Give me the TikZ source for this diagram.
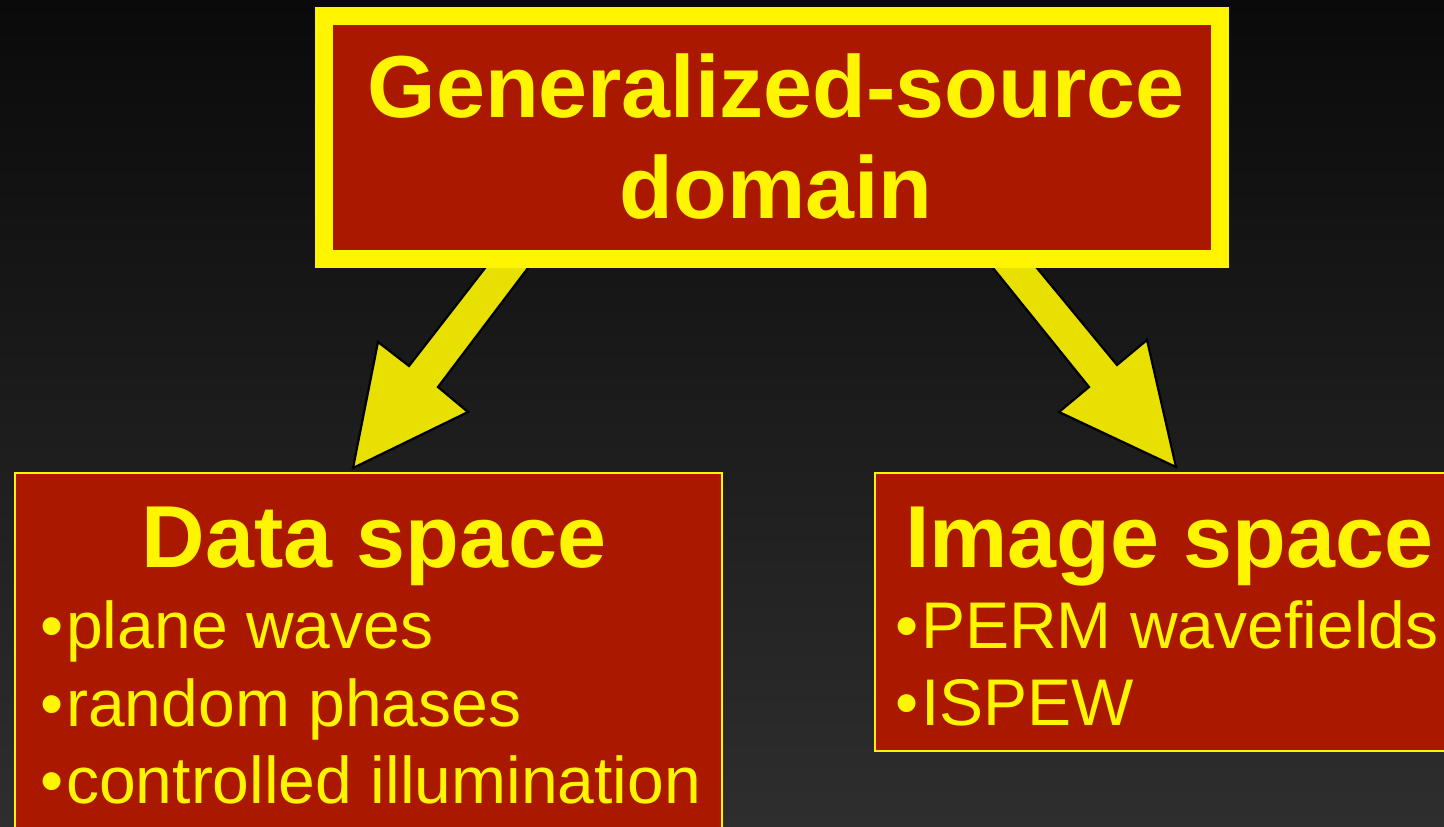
\documentclass[tikz,border=0pt]{standalone}
\usepackage{fontspec}
\setmainfont{Liberation Sans}
\definecolor{boxred}{RGB}{170,24,0}
\definecolor{ylw}{RGB}{255,245,0}
\definecolor{arrowylw}{RGB}{232,224,0}
\definecolor{bgtop}{RGB}{10,10,10}
\definecolor{bgbot}{RGB}{46,46,46}
\tikzset{
  bigbox/.style={draw=ylw,line width=18pt,fill=boxred,inner sep=0pt,outer sep=0pt},
  smallbox/.style={draw=ylw,line width=2pt,fill=boxred,inner sep=0pt,outer sep=0pt},
  blockarrow/.style={draw=black,line width=2.2pt,fill=arrowylw,line join=miter},
  headtext/.style={text=ylw,font=\fontsize{88}{100}\selectfont\bfseries,inner sep=0pt,anchor=base},
  itemtext/.style={text=ylw,font=\fontsize{66}{78}\selectfont,inner sep=0pt,anchor=base west},
}
\newcommand{\bul}{•\kern3pt}
\begin{document}
\begin{tikzpicture}[x=1pt,y=-1pt]
\useasboundingbox (0,0) rectangle (1444,827);
\shade[top color=bgtop,bottom color=bgbot] (0,0) rectangle (1444,827);
\clip (0,0) rectangle (1444,827);
% arrows
\draw[blockarrow] (489.7,262) -- (409,366) -- (378,342) -- (353,468) -- (468,412) -- (438,387) -- (532.5,262) -- cycle;
\draw[blockarrow] (988.2,262) -- (1089,387) -- (1059,412) -- (1176,467) -- (1147,340) -- (1117,365) -- (1032,262) -- cycle;
% boxes
\node[bigbox,minimum width=896pt,minimum height=243pt] (top) at (772,137.5) {};
\node[smallbox,minimum width=707pt,minimum height=427pt] (data) at (368.5,686.5) {};
\node[smallbox,minimum width=625pt,minimum height=278pt] (image) at (1187.5,612) {};
% texts
\node[headtext] (t1) at (776,117) {Generalized-source};
\node[headtext] (t2) at (776,218) {domain};
\node[headtext] (dh) at (374,567) {Data space};
\node[headtext,anchor=base west] (ih) at (905,567) {Image space};
\node[itemtext] (d1) at (40,648) {\bul plane waves};
\node[itemtext] (d2) at (40,726) {\bul random phases};
\node[itemtext] (d3) at (40,803) {\bul controlled illumination};
\node[itemtext] (i1) at (895,648) {\bul PERM wavefields};
\node[itemtext] (i2) at (895,725) {\bul ISPEW};
\end{tikzpicture}
\end{document}
